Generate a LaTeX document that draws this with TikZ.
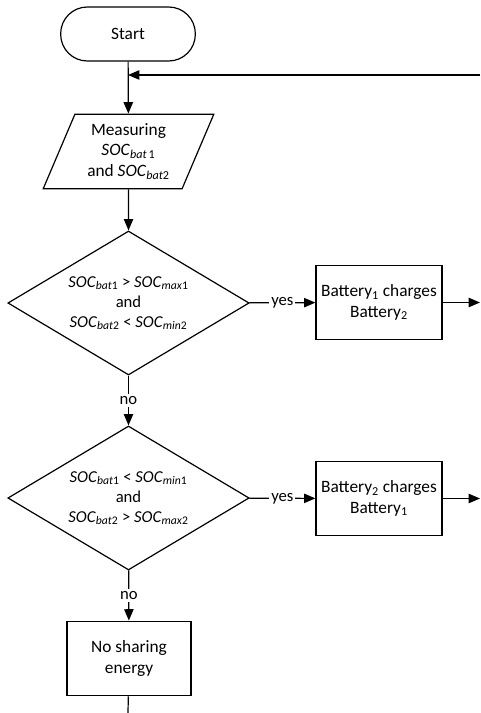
\documentclass[tikz,border=0pt]{standalone}
\usepackage{fontspec}
\setmainfont{Carlito}
\usetikzlibrary{shapes.geometric,arrows.meta,positioning}

% state of charge with index, e.g. SOC_bat1
\newcommand{\socv}[2]{\textit{SOC}\textsubscript{\textit{#1}#2}}

\begin{document}
\begin{tikzpicture}[x=0.75pt,y=-0.75pt,>={Triangle[length=8.5pt,width=7pt]}]

  \tikzstyle{txt} = [font=\fontsize{13}{15.5}\selectfont, align=center]
  \tikzstyle{term} = [draw, txt, rectangle, rounded corners=20pt, minimum width=101pt, minimum height=40.5pt, line width=0.9pt]
  \tikzstyle{io} = [draw, txt, trapezium, trapezium left angle=64, trapezium right angle=116, trapezium stretches body, minimum width=128pt, minimum height=56pt, line width=0.9pt]
  \tikzstyle{decision} = [draw, txt, font=\fontsize{12.5}{15}\selectfont, diamond, aspect=1.67, inner sep=0pt, minimum width=181pt, minimum height=108pt, line width=0.9pt]
  \tikzstyle{block} = [draw, txt, rectangle, minimum width=94.5pt, minimum height=55pt, line width=0.9pt]
  \tikzstyle{lbl} = [txt, font=\fontsize{12.5}{15}\selectfont, fill=white, inner sep=1.5pt]

  \useasboundingbox (0,0) rectangle (480,713);

  % main column
  \node[term] (start) at (128,34) {Start};
  \node[io] (meas) at (128.5,151.5) {Measuring\\\socv{bat}{\,1}\\and \socv{bat}{2}};
  \node[decision] (cond1) at (128.5,303) {\socv{bat}{1} > \socv{max}{1}\\and\\\socv{bat}{2} < \socv{min}{2}};
  \node[decision] (cond2) at (128.5,498) {\socv{bat}{1} < \socv{min}{1}\\and\\\socv{bat}{2} > \socv{max}{2}};
  \node[block, minimum width=93pt, minimum height=56pt] (idle) at (129,658.5) {No sharing\\energy};

  % sharing branches
  \node[block] (chg1) at (379,302.5) {Battery\textsubscript{1} charges\\Battery\textsubscript{2}};
  \node[block] (chg2) at (379,498.5) {Battery\textsubscript{2} charges\\Battery\textsubscript{1}};

  % loose ends at the border
  \coordinate (back) at (480,75);
  \coordinate (stop) at (128,713);

  \draw[->,color=black!100,line width=0.9pt] (start) -- (meas);
  \draw[->,color=black!100,line width=0.9pt] (back) -- (start |- back);
  \draw[->,color=black!100,line width=0.9pt] (meas) -- (cond1);
  \draw[->,color=black!100,line width=0.9pt] (cond1) -- node[lbl] {yes} (chg1);
  \draw[->,color=black!100,line width=0.9pt] (chg1) -- (chg1 -| back);
  \draw[->,color=black!100,line width=0.9pt] (cond1) -- node[lbl] {no} (cond2);
  \draw[->,color=black!100,line width=0.9pt] (cond2) -- node[lbl] {yes} (chg2);
  \draw[->,color=black!100,line width=0.9pt] (chg2) -- (chg2 -| back);
  \draw[->,color=black!100,line width=0.9pt] (cond2) -- node[lbl] {no} (idle);
  \draw[-,color=black!100,line width=0.9pt] (idle) -- (stop);

\end{tikzpicture}
\end{document}
